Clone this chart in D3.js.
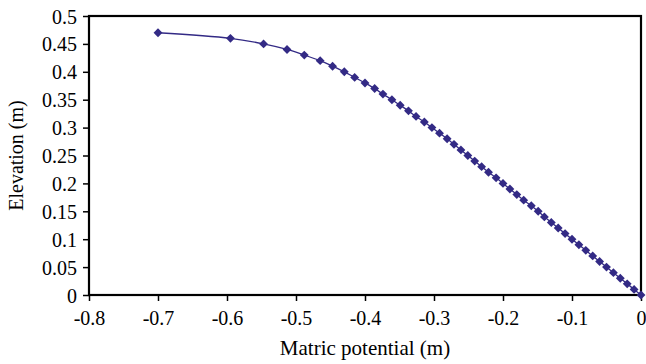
<!DOCTYPE html>
<html><head><meta charset="utf-8">
<script src="https://cdn.jsdelivr.net/npm/d3@7"></script>
<style>body{margin:0;background:#fff}svg{display:block}</style>
</head><body><svg id="c" width="646" height="364"></svg>
<script>
const elevation = [0.47,0.46,0.45,0.44,0.43,0.42,0.41,0.40,0.39,0.38,0.37,0.36,0.35,0.34,0.33,0.32,0.31,0.30,0.29,0.28,0.27,0.26,0.25,0.24,0.23,0.22,0.21,0.20,0.19,0.18,0.17,0.16,0.15,0.14,0.13,0.12,0.11,0.10,0.09,0.08,0.07,0.06,0.05,0.04,0.03,0.02,0.01,0.00];
const matricPotential = [-0.700,-0.595,-0.547,-0.513,-0.488,-0.465,-0.447,-0.430,-0.415,-0.400,-0.386,-0.374,-0.361,-0.349,-0.337,-0.326,-0.314,-0.303,-0.292,-0.281,-0.271,-0.261,-0.251,-0.241,-0.231,-0.221,-0.210,-0.200,-0.190,-0.180,-0.170,-0.159,-0.149,-0.140,-0.130,-0.120,-0.110,-0.100,-0.090,-0.080,-0.070,-0.060,-0.050,-0.040,-0.030,-0.020,-0.010,0.000];
const xTicks = [-0.8,-0.7,-0.6,-0.5,-0.4,-0.3,-0.2,-0.1,0];
const xTickLabels = ["-0.8","-0.7","-0.6","-0.5","-0.4","-0.3","-0.2","-0.1","0"];
const yTicks = [0,0.05,0.1,0.15,0.2,0.25,0.3,0.35,0.4,0.45,0.5];
const yTickLabels = ["0","0.05","0.1","0.15","0.2","0.25","0.3","0.35","0.4","0.45","0.5"];
const xTitle = "Matric potential (m)";
const yTitle = "Elevation (m)";

const FONT = "'Liberation Serif', 'DejaVu Serif', 'Times New Roman', serif";
const svg = d3.select("#c");
const L=89, R=641, T=16, B=295;
const x = d3.scaleLinear().domain([-0.8,0]).range([L,R]);
const y = d3.scaleLinear().domain([0,0.5]).range([B,T]);
const color = "#332a85";

const xa = svg.append("g").attr("transform",`translate(0,${B})`)
  .call(d3.axisBottom(x).tickValues(xTicks).tickFormat((d,i)=>xTickLabels[i]).tickSize(6).tickPadding(10));
const ya = svg.append("g").attr("transform",`translate(${L},0)`)
  .call(d3.axisLeft(y).tickValues(yTicks).tickFormat((d,i)=>yTickLabels[i]).tickSize(6).tickPadding(6));
[xa,ya].forEach(a=>{
  a.attr("font-family",FONT).attr("font-size",20);
  a.select(".domain").remove();
  a.selectAll("line").attr("stroke","#000").attr("stroke-width",1.5);
  a.selectAll("text").attr("font-family",FONT).attr("font-size",20).attr("fill","#000");
});
ya.selectAll("text").attr("dy","0.35em");

svg.append("rect").attr("x",L).attr("y",T).attr("width",R-L).attr("height",B-T)
  .attr("fill","none").attr("stroke","#000").attr("stroke-width",2.2);

const pts = elevation.map((e,i)=>[matricPotential[i],e]);
svg.append("path").datum(pts)
  .attr("d", d3.line().x(d=>x(d[0])).y(d=>y(d[1])).curve(d3.curveCatmullRom.alpha(0.5)))
  .attr("fill","none").attr("stroke",color).attr("stroke-width",1.3);

svg.append("g").selectAll("path").data(pts).join("path")
  .attr("transform",d=>`translate(${x(d[0])},${y(d[1])})`)
  .attr("d", d3.symbol(d3.symbolDiamond2, 50))
  .attr("fill",color);

svg.append("text").attr("x",(L+R)/2).attr("y",355).attr("text-anchor","middle")
  .attr("font-family",FONT).attr("font-size",21).text(xTitle);
svg.append("text").attr("transform",`translate(23,${(T+B)/2}) rotate(-90)`).attr("text-anchor","middle")
  .attr("font-family",FONT).attr("font-size",20).text(yTitle);
</script></body></html>
